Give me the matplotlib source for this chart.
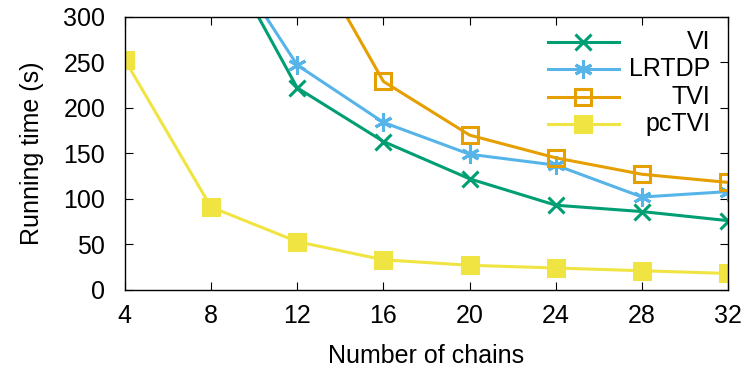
#!/usr/bin/env python3

import numpy as np
import matplotlib.pyplot as plt

chains = [4, 8, 12, 16, 20, 24, 28, 32]
vi = [None, 395, 222, 163, 122, 93, 86, 76]
lrtdp = [None, 393, 247, 184, 149, 137, 102, 108]
tvi = [None, None, 396, 229, 170, 145, 127, 118]
pctvi = [253, 91, 53, 33, 27, 24, 21, 18]

names = ["VI", "LRTDP", "TVI", "pcTVI"]
colors = ["#009e73", "#56b4e9", "#e69f00", "#f0e442"]
markers = ["x", (6, 2, 0), "s", "s"]
sizes = [11, 13, 11, 12]
fills = ["full", "full", "none", "full"]


def main():
    plt.rcParams["font.family"] = ["Liberation Sans", "DejaVu Sans"]
    fig = plt.figure(figsize=(7.47, 3.74), dpi=100)
    ax = fig.add_axes([0.167, 0.225, 0.808, 0.730])

    series = [vi, lrtdp, tvi, pctvi]
    for i, s in enumerate(series):
        y = np.array([np.nan if v is None else v for v in s], dtype=float)
        ax.plot(chains, y, color=colors[i], marker=markers[i], markersize=sizes[i],
                fillstyle=fills[i], markeredgewidth=2.2, linewidth=2.2,
                clip_on=True)

    ax.set_xlim(4, 32)
    ax.set_ylim(0, 300)
    ax.set_xticks(chains)
    ax.set_yticks(np.arange(0, 301, 50))
    ax.tick_params(direction="in", top=True, right=True, length=6,
                   labelsize=18)
    ax.tick_params(axis="x", pad=10)
    ax.tick_params(axis="y", pad=14)
    ax.set_xlabel("Number of chains", fontsize=18, labelpad=12)
    ax.set_ylabel("Running time (s)", fontsize=18, labelpad=14)
    for sp in ax.spines.values():
        sp.set_linewidth(1.0)

    # legend, gnuplot style: sample left, label right-justified
    ys = [0.909, 0.809, 0.708, 0.608]
    for i in range(4):
        ax.plot([0.701, 0.819], [ys[i], ys[i]], color=colors[i], linewidth=2.2,
                transform=ax.transAxes, clip_on=False)
        ax.plot([0.76], [ys[i]], color=colors[i], marker=markers[i],
                markersize=sizes[i], fillstyle=fills[i], markeredgewidth=2.2,
                transform=ax.transAxes, clip_on=False)
        ax.text(0.970, ys[i], names[i], transform=ax.transAxes, ha="right",
                va="center", fontsize=18)

    fig.savefig("out.png", dpi=100)


if __name__ == "__main__":
    main()
